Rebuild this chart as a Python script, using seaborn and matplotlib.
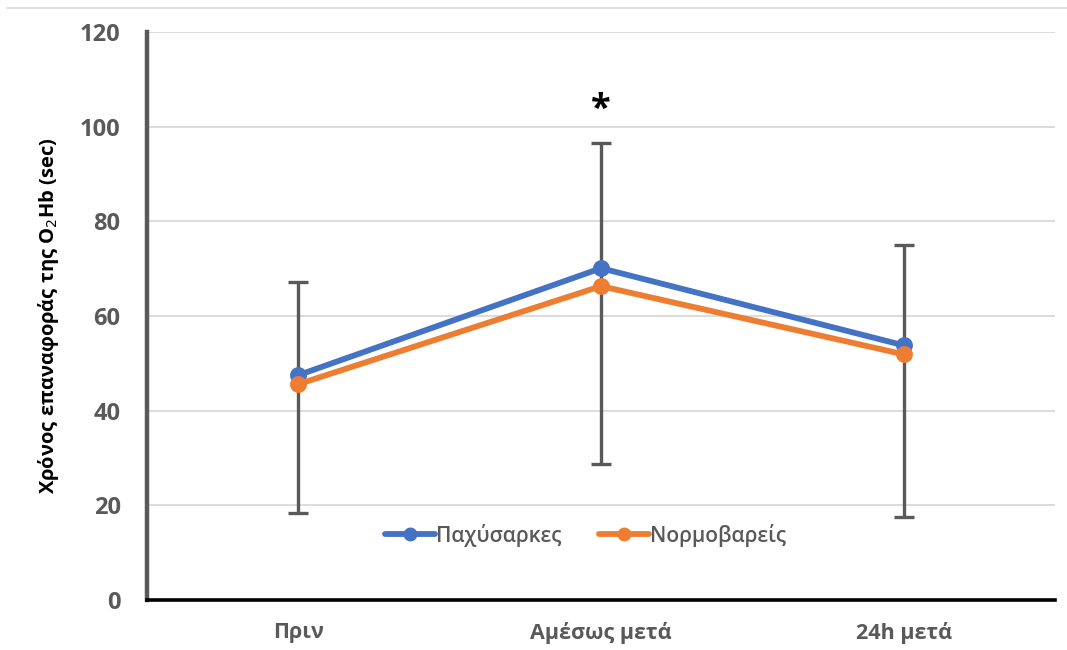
import matplotlib
matplotlib.use("Agg")
import matplotlib.pyplot as plt
from matplotlib.lines import Line2D
import seaborn as sns
import pandas as pd
import numpy as np

categories = ["Πριν", "Αμέσως μετά", "24h μετά"]
series_names = ["Παχύσαρκες", "Νορμοβαρείς"]
obese = [47.5, 70.1, 53.8]
normal = [45.6, 66.3, 51.9]
err_low = [18.4, 28.7, 17.5]
err_high = [67.2, 96.6, 75.0]
y_ticks = [0, 20, 40, 60, 80, 100, 120]
star_cat = "Αμέσως μετά"
star_y = 103.5

colors = ["#4472C4", "#ED7D31"]
gray = "#595959"

df = pd.DataFrame({
    "cat": categories * 2,
    "val": obese + normal,
    "grp": [series_names[0]] * 3 + [series_names[1]] * 3,
})

sns.set_theme(style="white")
plt.rcParams["font.family"] = ["Open Sans", "DejaVu Sans"]

fig = plt.figure(figsize=(10.67, 6.5), dpi=100)
ax = fig.add_axes([147/1067, 50/650, (1055-147)/1067, (600-32)/650])

xpos = np.arange(len(categories))
mid = [(lo + hi) / 2 for lo, hi in zip(err_low, err_high)]
yerr = [[m - lo for m, lo in zip(mid, err_low)], [hi - m for hi, m in zip(err_high, mid)]]
ax.errorbar(xpos, mid, yerr=yerr, fmt="none", ecolor=gray, elinewidth=2.4,
            capsize=7, capthick=2.4, zorder=2)

sns.pointplot(data=df, x="cat", y="val", hue="grp", order=categories,
              hue_order=series_names, palette=colors, markers="o",
              linewidth=4.2, markersize=9, ax=ax, legend=False)
for coll in ax.collections:
    coll.set_zorder(4)
for ln in ax.lines:
    ln.set_zorder(4)

ax.set_xlim(-0.5, len(categories) - 0.5)
ax.set_ylim(0, 120)
ax.set_yticks(y_ticks)
ax.yaxis.grid(True, color="#D9D9D9", linewidth=1.3)
ax.set_axisbelow(True)

for s in ["top", "right"]:
    ax.spines[s].set_visible(False)
ax.spines["left"].set_color(gray)
ax.spines["left"].set_linewidth(3.2)
ax.spines["bottom"].set_color("black")
ax.spines["bottom"].set_linewidth(2.6)
ax.spines["bottom"].set_zorder(5)

ax.set_yticklabels([str(v) for v in y_ticks], fontsize=17, fontweight="bold",
                   color=gray)
ax.tick_params(axis="y", direction="inout", length=12, width=2.2, color=gray,
               pad=13)

ax.set_xticks(np.arange(-0.5, len(categories)), labels=[""] * (len(categories) + 1))
ax.set_xticks(xpos, labels=categories, minor=True)
ax.tick_params(axis="x", which="major", direction="inout", length=12, width=2.2,
               color="black")
ax.tick_params(axis="x", which="minor", length=0, labelsize=15.5, labelcolor=gray,
               pad=16)
for lbl in ax.get_xticklabels(minor=True):
    lbl.set_fontweight("bold")
ax.set_xlabel("")
ax.set_ylabel("Χρόνος επαναφοράς της O$_2$Hb (sec)", fontsize=14.5,
              fontweight="bold", color="black", labelpad=14)

ax.text(categories.index(star_cat), star_y, "*", ha="center", va="center",
        fontsize=26, fontweight="bold", color="black")

handles = [Line2D([0], [0], color=c, lw=4.2, marker="o", markersize=9) for c in colors]
leg = ax.legend(handles, series_names, loc="center", bbox_to_anchor=(0.483, 0.114),
                ncol=2, frameon=False, handlelength=2.4,
                handletextpad=0.05, columnspacing=1.8,
                prop={"weight": "semibold", "size": 15})
for t in leg.get_texts():
    t.set_color(gray)

fig.add_artist(Line2D([0.007, 1.0], [1 - 8/650, 1 - 8/650], color="#D9D9D9", lw=1.2))

fig.savefig("out.png", dpi=100)
